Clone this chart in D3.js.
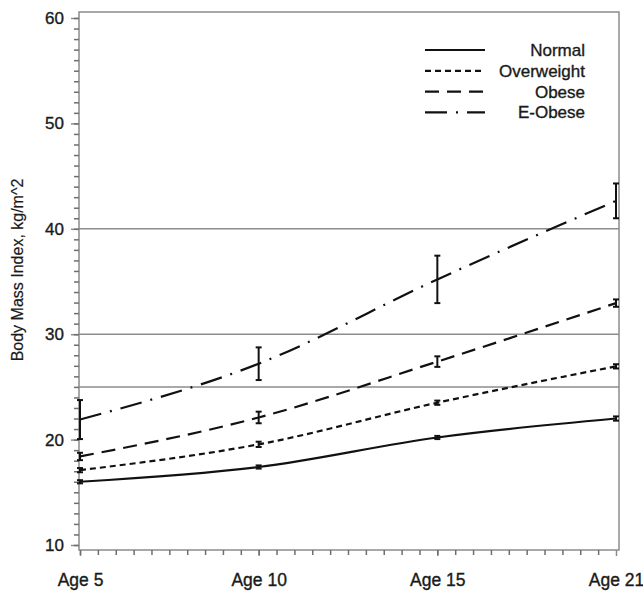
<!DOCTYPE html>
<html>
<head>
<meta charset="utf-8">
<script src="https://cdn.jsdelivr.net/npm/d3@7"></script>
<style>
  body { margin: 0; background: #fff; }
  text { font-family: "Liberation Sans", Arial, sans-serif; fill: #1a1a1a; stroke: #1a1a1a; stroke-width: 0.35px; }
</style>
</head>
<body>
<div class="section"></div>
<script>
// chart data
var ages = ["Age 5", "Age 10", "Age 15", "Age 21"];
var groups = ["Normal", "Overweight", "Obese", "E-Obese"];
var normal = [16.0, 17.4, 20.2, 22.0];
var normalErr = [0.15, 0.15, 0.15, 0.2];
var overweight = [17.1, 19.55, 23.5, 26.95];
var overweightErr = [0.2, 0.25, 0.2, 0.2];
var obese = [18.4, 22.1, 27.4, 32.95];
var obeseErr = [0.35, 0.55, 0.5, 0.35];
var eobese = [21.9, 27.2, 35.2, 42.65];
var eobeseErr = [1.85, 1.55, 2.25, 1.65];
var refLines = [25, 30, 40];
var yTicks = [10, 20, 30, 40, 50, 60];

var width = 643;
var height = 592;

var series = [
    {name: groups[0], values: normal, err: normalErr, dash: null},
    {name: groups[1], values: overweight, err: overweightErr, dash: "6,4"},
    {name: groups[2], values: obese, err: obeseErr, dash: "14,8"},
    {name: groups[3], values: eobese, err: eobeseErr, dash: "22,9,2,9"}
];

var svg = d3.select(".section").append("svg")
    .attr("width", width)
    .attr("height", height);

var x = d3.scalePoint().domain(ages).range([80, 616]);
var xi = d3.scaleLinear().domain([0, ages.length - 1]).range([80, 616]);
var y = d3.scaleLinear().domain([10, 60]).range([545, 18]);

var gray = "#8c8c8c";

// reference lines
svg.selectAll("line.ref").data(refLines).enter().append("line")
    .attr("class", "ref")
    .attr("x1", 79).attr("x2", 619)
    .attr("y1", function(d){ return y(d); })
    .attr("y2", function(d){ return y(d); })
    .attr("stroke", gray).attr("stroke-width", 1.5);

// frame
svg.append("rect")
    .attr("x", 79).attr("y", 12)
    .attr("width", 540).attr("height", 538)
    .attr("fill", "none").attr("stroke", gray).attr("stroke-width", 1.5);

// y axis (major + minor ticks)
var yAxis = svg.append("g").attr("transform", "translate(79,0)")
    .call(d3.axisLeft(y).tickValues(yTicks).tickSize(8).tickPadding(7).tickFormat(d3.format("d")));
yAxis.select(".domain").remove();
yAxis.selectAll("line").attr("stroke", gray).attr("stroke-width", 1.5);
yAxis.selectAll("text").style("font-size", "17px").attr("fill", "#1a1a1a");

var yMinor = svg.append("g").attr("transform", "translate(79,0)")
    .call(d3.axisLeft(y).tickValues(d3.range(10, 61, 1)).tickSize(5).tickFormat(""));
yMinor.select(".domain").remove();
yMinor.selectAll("line").attr("stroke", "#6e6e6e").attr("stroke-width", 1.5);

// x axis
var xAxis = svg.append("g").attr("transform", "translate(0,550)")
    .call(d3.axisBottom(x).tickSize(6).tickPadding(18));
xAxis.select(".domain").remove();
xAxis.selectAll("line").attr("stroke", gray).attr("stroke-width", 1.5);
xAxis.selectAll("text").style("font-size", "17.5px").attr("fill", "#1a1a1a");

var xMinor = svg.append("g").attr("transform", "translate(0,550)")
    .call(d3.axisBottom(xi).tickValues(d3.range(0, 30).map(function(d){ return d / 10; })).tickSize(5).tickFormat(""));
xMinor.select(".domain").remove();
xMinor.selectAll("line").attr("stroke", "#6e6e6e").attr("stroke-width", 1.5);

// y title
svg.append("text")
    .attr("transform", "translate(23,270) rotate(-90)")
    .attr("text-anchor", "middle")
    .style("font-size", "16px")
    .style("stroke-width", "0.2px")
    .text("Body Mass Index, kg/m^2");

// lines
var line = d3.line()
    .x(function(d, i){ return x(ages[i]); })
    .y(function(d){ return y(d); })
    .curve(d3.curveMonotoneX);

svg.selectAll("path.series").data(series).enter().append("path")
    .attr("class", "series")
    .attr("d", function(d){ return line(d.values); })
    .attr("fill", "none")
    .attr("stroke", "#111")
    .attr("stroke-width", 2.2)
    .attr("stroke-dasharray", function(d){ return d.dash; });

// error bars
series.forEach(function(s){
    var g = svg.append("g");
    s.values.forEach(function(v, i){
        var cx = x(ages[i]);
        var lo = y(v - s.err[i]), hi = y(v + s.err[i]);
        g.append("line").attr("x1", cx).attr("x2", cx).attr("y1", lo).attr("y2", hi)
            .attr("stroke", "#111").attr("stroke-width", 2);
        g.append("line").attr("x1", cx - 3).attr("x2", cx + 3).attr("y1", lo).attr("y2", lo)
            .attr("stroke", "#111").attr("stroke-width", 2);
        g.append("line").attr("x1", cx - 3).attr("x2", cx + 3).attr("y1", hi).attr("y2", hi)
            .attr("stroke", "#111").attr("stroke-width", 2);
    });
});

// legend
var legend = svg.selectAll("g.legend").data(series).enter().append("g")
    .attr("class", "legend")
    .attr("transform", function(d, i){ return "translate(0," + (50 + i * 20.8) + ")"; });
legend.append("line")
    .attr("x1", 425).attr("x2", 485).attr("y1", 0).attr("y2", 0)
    .attr("stroke", "#111").attr("stroke-width", 2.2)
    .attr("stroke-dasharray", function(d){ return d.dash; });
legend.append("text")
    .attr("x", 585).attr("y", 6)
    .attr("text-anchor", "end")
    .style("font-size", "17px")
    .text(function(d){ return d.name; });
</script>
</body>
</html>
